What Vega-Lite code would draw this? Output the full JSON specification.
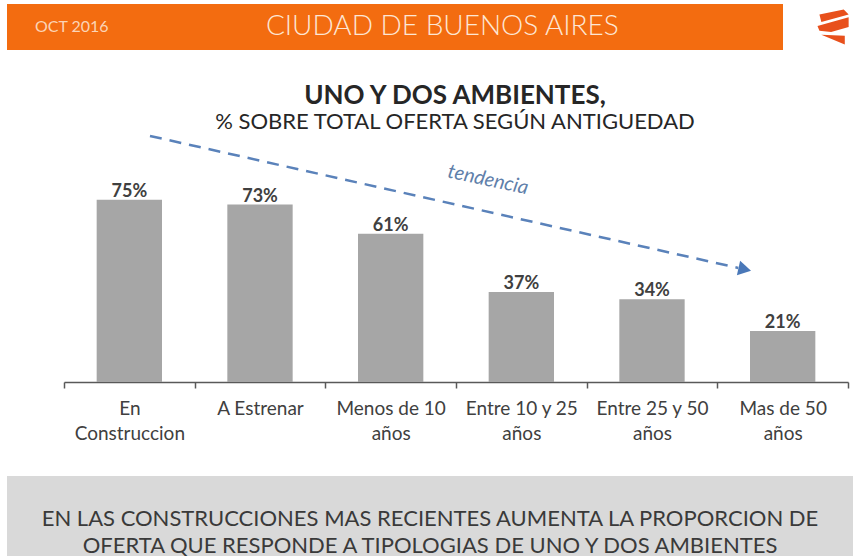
{
  "$schema": "https://vega.github.io/schema/vega-lite/v6.json",
  "padding": {"left": 7, "top": 4, "right": 0, "bottom": 0},
  "background": "#ffffff",
  "spacing": 33,
  "config": {"font": "Lato", "view": {"stroke": null}},
  "vconcat": [
    {
      "width": 776,
      "height": 46,
      "view": {"fill": "#F36C10", "stroke": null},
      "data": {"values": [{"t": "OCT 2016", "kind": "fecha"}, {"t": "CIUDAD DE BUENOS AIRES", "kind": "lugar"}]},
      "layer": [
        {
          "transform": [{"filter": "datum.kind == 'fecha'"}],
          "mark": {"type": "text", "align": "left", "baseline": "middle", "fontSize": 16, "color": "#FBD4B6"},
          "encoding": {
            "x": {"datum": 3.6, "type": "quantitative", "scale": {"domain": [0, 100], "nice": false, "zero": false}, "axis": null},
            "text": {"field": "t"}
          }
        },
        {
          "transform": [{"filter": "datum.kind == 'lugar'"}],
          "mark": {"type": "text", "align": "center", "baseline": "middle", "fontSize": 28, "fontWeight": 300, "color": "#FDE6D4"},
          "encoding": {
            "x": {"datum": 56.1, "type": "quantitative"},
            "text": {"field": "t"}
          }
        },
        {
          "transform": [{"filter": "datum.kind == 'lugar'"}],
          "mark": {
            "type": "point",
            "shape": "M -0.89 -0.72 L 0.5 -1 L 0.78 -0.72 L -0.78 -0.28 Z M -1 -0.06 L 0.78 -0.56 L 0.78 0 L -0.22 0.28 L -0.89 0.22 Z M -0.78 0.44 L 0.56 0.5 L 0.56 1 Z",
            "size": 1225,
            "filled": true,
            "opacity": 1,
            "strokeWidth": 0,
            "color": "#E8501C"
          },
          "encoding": {
            "x": {"datum": 106.7, "type": "quantitative"}
          }
        }
      ]
    },
    {
      "width": 846,
      "height": 248,
      "title": {
        "text": "UNO Y DOS AMBIENTES,",
        "subtitle": "% SOBRE TOTAL OFERTA SEGÚN ANTIGUEDAD",
        "anchor": "middle",
        "fontSize": 26,
        "fontWeight": "bold",
        "color": "#262626",
        "subtitleFontSize": 22,
        "subtitleColor": "#262626",
        "subtitlePadding": 3,
        "offset": 1,
        "dx": 25
      },
      "data": {
        "values": [
          {"cat": "En Construccion", "pct": 0.75},
          {"cat": "A Estrenar", "pct": 0.73},
          {"cat": "Menos de 10 años", "pct": 0.61},
          {"cat": "Entre 10 y 25 años", "pct": 0.37},
          {"cat": "Entre 25 y 50 años", "pct": 0.34},
          {"cat": "Mas de 50 años", "pct": 0.21}
        ]
      },
      "layer": [
        {
          "encoding": {
            "x": {
              "field": "cat",
              "type": "nominal",
              "sort": null,
              "scale": {"range": [57, 841], "paddingInner": 0, "paddingOuter": 0},
              "axis": {
                "title": null,
                "tickBand": "extent",
                "domainColor": "#595959",
                "domainWidth": 1.5,
                "ticks": true,
                "tickColor": "#595959",
                "tickWidth": 1.5,
                "tickSize": 6,
                "tickOpacity": 1,
                "labelFontSize": 19,
                "labelColor": "#404040",
                "labelPadding": 11,
                "labelLineHeight": 25,
                "labelAngle": 0,
                "labelOverlap": false,
                "labelExpr": "!isValid(datum.value) ? '' : datum.value == 'A Estrenar' ? datum.value : datum.value == 'En Construccion' ? ['En', 'Construccion'] : [replace(datum.value, ' años', ''), 'años']"
              }
            },
            "y": {"field": "pct", "type": "quantitative", "scale": {"domain": [0, 1.02], "nice": false}, "axis": null}
          },
          "layer": [
            {"mark": {"type": "bar", "color": "#A6A6A6", "width": {"band": 0.5}}},
            {
              "mark": {"type": "text", "baseline": "alphabetic", "dy": -3, "fontSize": 18, "fontWeight": "bold", "color": "#404040"},
              "encoding": {"text": {"field": "pct", "type": "quantitative", "format": ".0%"}}
            }
          ]
        },
        {
          "data": {"values": [{"note": "tendencia"}]},
          "mark": {"type": "rule", "strokeDash": [12, 8], "strokeWidth": 2.5, "color": "#5A82BA"},
          "encoding": {
            "x": {"datum": 0.158, "type": "quantitative", "scale": {"domain": [-0.5, 5.5], "range": [57, 841], "nice": false, "zero": false}, "axis": null},
            "x2": {"datum": 4.66},
            "y": {"datum": 1.012, "type": "quantitative"},
            "y2": {"datum": 0.469}
          }
        },
        {
          "data": {"values": [{"note": "tendencia"}]},
          "mark": {"type": "point", "shape": "triangle-right", "filled": true, "opacity": 1, "size": 220, "angle": 12.6, "color": "#4A78B8"},
          "encoding": {
            "x": {"datum": 4.71, "type": "quantitative", "scale": {"domain": [-0.5, 5.5], "range": [57, 841], "nice": false, "zero": false}, "axis": null},
            "y": {"datum": 0.463, "type": "quantitative"}
          }
        },
        {
          "data": {"values": [{"note": "tendencia"}]},
          "mark": {"type": "text", "angle": 12, "fontStyle": "italic", "fontSize": 20, "color": "#5F80AA"},
          "encoding": {
            "x": {"datum": 2.745, "type": "quantitative", "scale": {"domain": [-0.5, 5.5], "range": [57, 841], "nice": false, "zero": false}, "axis": null},
            "y": {"datum": 0.831, "type": "quantitative"},
            "text": {"field": "note"}
          }
        }
      ],
      "resolve": {"scale": {"x": "independent"}}
    },
    {
      "width": 846,
      "height": 80,
      "view": {"fill": "#D9D9D9", "stroke": null},
      "data": {"values": [{"lines": ["EN LAS CONSTRUCCIONES MAS RECIENTES AUMENTA LA PROPORCION DE", "OFERTA QUE RESPONDE A TIPOLOGIAS DE UNO Y DOS AMBIENTES"]}]},
      "mark": {"type": "text", "fontSize": 22, "lineHeight": 27, "color": "#3A3A3A", "baseline": "middle", "dy": 3},
      "encoding": {"text": {"field": "lines"}}
    }
  ]
}
